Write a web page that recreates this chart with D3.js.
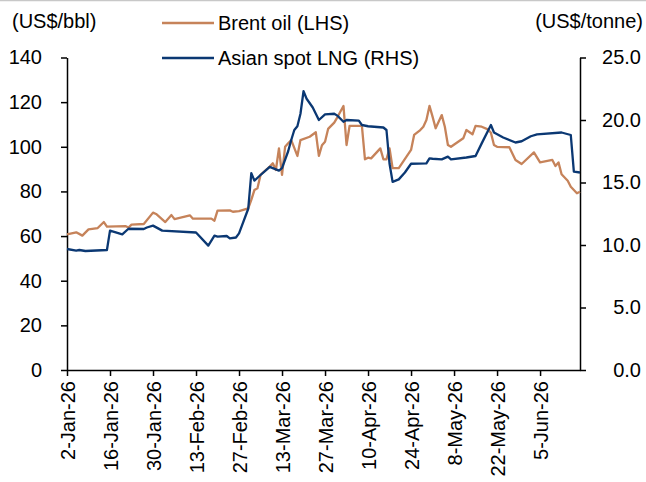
<!DOCTYPE html>
<html>
<head>
<meta charset="utf-8">
<script src="https://cdn.jsdelivr.net/npm/d3@7"></script>
<style>
  body { margin: 0; background: #fff; }
  text { font-family: "Liberation Sans", Arial, sans-serif; }
</style>
</head>
<body>
<div id="chart"></div>
<script>
const brentDates = ["2026-01-02","2026-01-05","2026-01-07","2026-01-09","2026-01-12","2026-01-14","2026-01-15","2026-01-21","2026-01-22","2026-01-23","2026-01-27","2026-01-30","2026-01-31","2026-02-03","2026-02-05","2026-02-06","2026-02-11","2026-02-12","2026-02-18","2026-02-19","2026-02-20","2026-02-24","2026-02-25","2026-02-27","2026-03-02","2026-03-03","2026-03-04","2026-03-05","2026-03-06","2026-03-09","2026-03-10","2026-03-11","2026-03-12","2026-03-13","2026-03-14","2026-03-15","2026-03-16","2026-03-18","2026-03-19","2026-03-22","2026-03-24","2026-03-25","2026-03-26","2026-03-27","2026-03-28","2026-03-30","2026-03-31","2026-04-02","2026-04-03","2026-04-04","2026-04-08","2026-04-09","2026-04-10","2026-04-11","2026-04-14","2026-04-15","2026-04-16","2026-04-17","2026-04-18","2026-04-20","2026-04-24","2026-04-25","2026-04-27","2026-04-28","2026-04-29","2026-04-30","2026-05-01","2026-05-02","2026-05-04","2026-05-05","2026-05-06","2026-05-07","2026-05-11","2026-05-12","2026-05-14","2026-05-15","2026-05-17","2026-05-19","2026-05-20","2026-05-21","2026-05-22","2026-05-26","2026-05-28","2026-05-30","2026-06-03","2026-06-05","2026-06-09","2026-06-10","2026-06-11","2026-06-12","2026-06-14","2026-06-15","2026-06-17","2026-06-18"];
const brentValues = [60.8,61.7,60.2,63.0,63.6,66.3,64.2,64.5,63.8,65.1,65.4,70.5,69.9,66.3,69.4,67.6,69.3,67.8,67.8,66.9,71.4,71.5,70.9,71.2,72.4,76.2,80.6,81.4,87.4,91.1,92.6,89.6,99.3,87.4,100.0,101.6,103.0,95.9,103.0,104.5,106.5,95.9,100.7,102.3,108.0,110.8,113.2,118.3,100.8,109.4,109.4,94.4,95.1,94.8,99.3,94.4,94.4,99.3,90.4,90.4,98.6,105.3,107.5,109.0,112.0,118.3,113.5,108.3,114.2,109.0,100.8,100.0,103.8,107.5,105.6,109.4,109.0,107.8,106.3,100.8,100.0,99.8,94.1,92.3,97.5,93.0,94.1,91.4,93.0,87.7,84.8,82.1,79.2,79.9];

const lngDates = ["2026-01-02","2026-01-05","2026-01-06","2026-01-08","2026-01-15","2026-01-16","2026-01-20","2026-01-22","2026-01-27","2026-01-28","2026-01-30","2026-02-02","2026-02-13","2026-02-17","2026-02-19","2026-02-20","2026-02-23","2026-02-24","2026-02-26","2026-02-27","2026-03-02","2026-03-03","2026-03-04","2026-03-06","2026-03-09","2026-03-12","2026-03-13","2026-03-15","2026-03-16","2026-03-17","2026-03-18","2026-03-19","2026-03-20","2026-03-21","2026-03-23","2026-03-24","2026-03-25","2026-03-27","2026-03-30","2026-03-31","2026-04-02","2026-04-03","2026-04-07","2026-04-08","2026-04-10","2026-04-15","2026-04-16","2026-04-17","2026-04-18","2026-04-20","2026-04-22","2026-04-24","2026-04-29","2026-04-30","2026-05-01","2026-05-04","2026-05-06","2026-05-07","2026-05-12","2026-05-15","2026-05-17","2026-05-20","2026-05-21","2026-05-24","2026-05-28","2026-05-30","2026-06-02","2026-06-04","2026-06-12","2026-06-15","2026-06-16","2026-06-18"];
const lngValues = [9.68,9.55,9.6,9.52,9.6,11.15,10.85,11.3,11.28,11.4,11.55,11.15,11.0,9.95,10.75,10.67,10.72,10.53,10.6,10.93,12.9,15.75,15.15,15.6,16.25,15.95,16.15,17.5,18.4,19.2,19.5,20.5,22.3,21.7,21.0,20.5,20.0,20.45,20.5,20.35,19.86,20.0,19.95,19.6,19.5,19.4,19.2,16.5,15.05,15.25,15.8,16.5,16.53,16.93,16.9,16.85,17.07,16.85,17.0,17.12,18.13,19.6,19.0,18.6,18.2,18.3,18.7,18.85,19.0,18.8,15.87,15.8];

const xTickDates = ["2026-01-02","2026-01-16","2026-01-30","2026-02-13","2026-02-27","2026-03-13","2026-03-27","2026-04-10","2026-04-24","2026-05-08","2026-05-22","2026-06-05"];
const leftTicks = [0,20,40,60,80,100,120,140];
const rightTicks = [0,5,10,15,20,25];
const xStart = "2026-01-02", xEnd = "2026-06-18";

const parse = d3.timeParse("%Y-%m-%d");
const brent = brentDates.map((d, i) => ({ date: parse(d), value: brentValues[i] }));
const lng = lngDates.map((d, i) => ({ date: parse(d), value: lngValues[i] }));

const width = 646, height = 482;
const plot = { left: 67, right: 580, top: 57.5, bottom: 370 };
const fontSize = "20px";
const brentColor = "#C6835A";
const lngColor = "#0B3873";

const svg = d3.select("#chart").append("svg")
  .attr("width", width)
  .attr("height", height);

svg.append("line")
  .attr("x1", 0).attr("x2", width).attr("y1", 0.5).attr("y2", 0.5)
  .attr("stroke", "#c8c8c8").attr("stroke-width", 1.5);

const x = d3.scaleTime()
  .domain([parse(xStart), parse(xEnd)])
  .range([plot.left, plot.right]);

const yL = d3.scaleLinear().domain([0, 140]).range([plot.bottom, plot.top]);
const yR = d3.scaleLinear().domain([0, 25]).range([plot.bottom, plot.top]);

// left axis
svg.append("g")
  .attr("transform", `translate(${plot.left},0)`)
  .call(d3.axisLeft(yL).tickValues(leftTicks).tickSize(6).tickSizeOuter(0).tickPadding(19))
  .call(g => g.selectAll("line, path").attr("stroke", "black").attr("stroke-width", 1.5))
  .call(g => g.selectAll("text").attr("fill", "black").style("font-size", fontSize));

// right axis
svg.append("g")
  .attr("transform", `translate(${plot.right},0)`)
  .call(d3.axisRight(yR).tickValues(rightTicks).tickSize(6).tickSizeOuter(0).tickFormat(d3.format(".1f")))
  .call(g => g.selectAll("line, path").attr("stroke", "black").attr("stroke-width", 1.5))
  .call(g => g.selectAll("text")
    .attr("fill", "black")
    .attr("x", 61)
    .attr("text-anchor", "end")
    .style("font-size", fontSize));

// x axis
svg.append("g")
  .attr("transform", `translate(0,${plot.bottom})`)
  .call(d3.axisBottom(x)
    .tickValues(xTickDates.map(parse))
    .tickSize(6)
    .tickSizeOuter(0)
    .tickFormat(d3.timeFormat("%-d-%b-%y")))
  .call(g => g.selectAll("line, path").attr("stroke", "black").attr("stroke-width", 1.5))
  .call(g => g.selectAll("text")
    .attr("fill", "black")
    .attr("transform", "rotate(-90)")
    .attr("x", -11)
    .attr("y", 0)
    .attr("dy", "0.35em")
    .attr("text-anchor", "end")
    .style("font-size", fontSize));

// lines
const line = yScale => d3.line()
  .x(d => x(d.date))
  .y(d => yScale(d.value));

svg.append("path")
  .datum(brent)
  .attr("fill", "none")
  .attr("stroke", brentColor)
  .attr("stroke-width", 2.3)
  .attr("stroke-linejoin", "round")
  .attr("d", line(yL));

svg.append("path")
  .datum(lng)
  .attr("fill", "none")
  .attr("stroke", lngColor)
  .attr("stroke-width", 2.3)
  .attr("stroke-linejoin", "round")
  .attr("d", line(yR));

// unit labels
svg.append("text")
  .attr("x", 12).attr("y", 28)
  .style("font-size", fontSize)
  .text("(US$/bbl)");

svg.append("text")
  .attr("x", 643).attr("y", 28)
  .attr("text-anchor", "end")
  .style("font-size", fontSize)
  .text("(US$/tonne)");

// legend
const legendItems = [
  { label: "Brent oil (LHS)", color: brentColor, y: 23 },
  { label: "Asian spot LNG (RHS)", color: lngColor, y: 58 }
];
const legend = svg.append("g");
legend.selectAll("line")
  .data(legendItems)
  .join("line")
  .attr("x1", 162).attr("x2", 214)
  .attr("y1", d => d.y).attr("y2", d => d.y)
  .attr("stroke", d => d.color)
  .attr("stroke-width", 2.3);
legend.selectAll("text")
  .data(legendItems)
  .join("text")
  .attr("x", 218)
  .attr("y", d => d.y)
  .attr("dy", "0.35em")
  .style("font-size", fontSize)
  .text(d => d.label);
</script>
</body>
</html>
